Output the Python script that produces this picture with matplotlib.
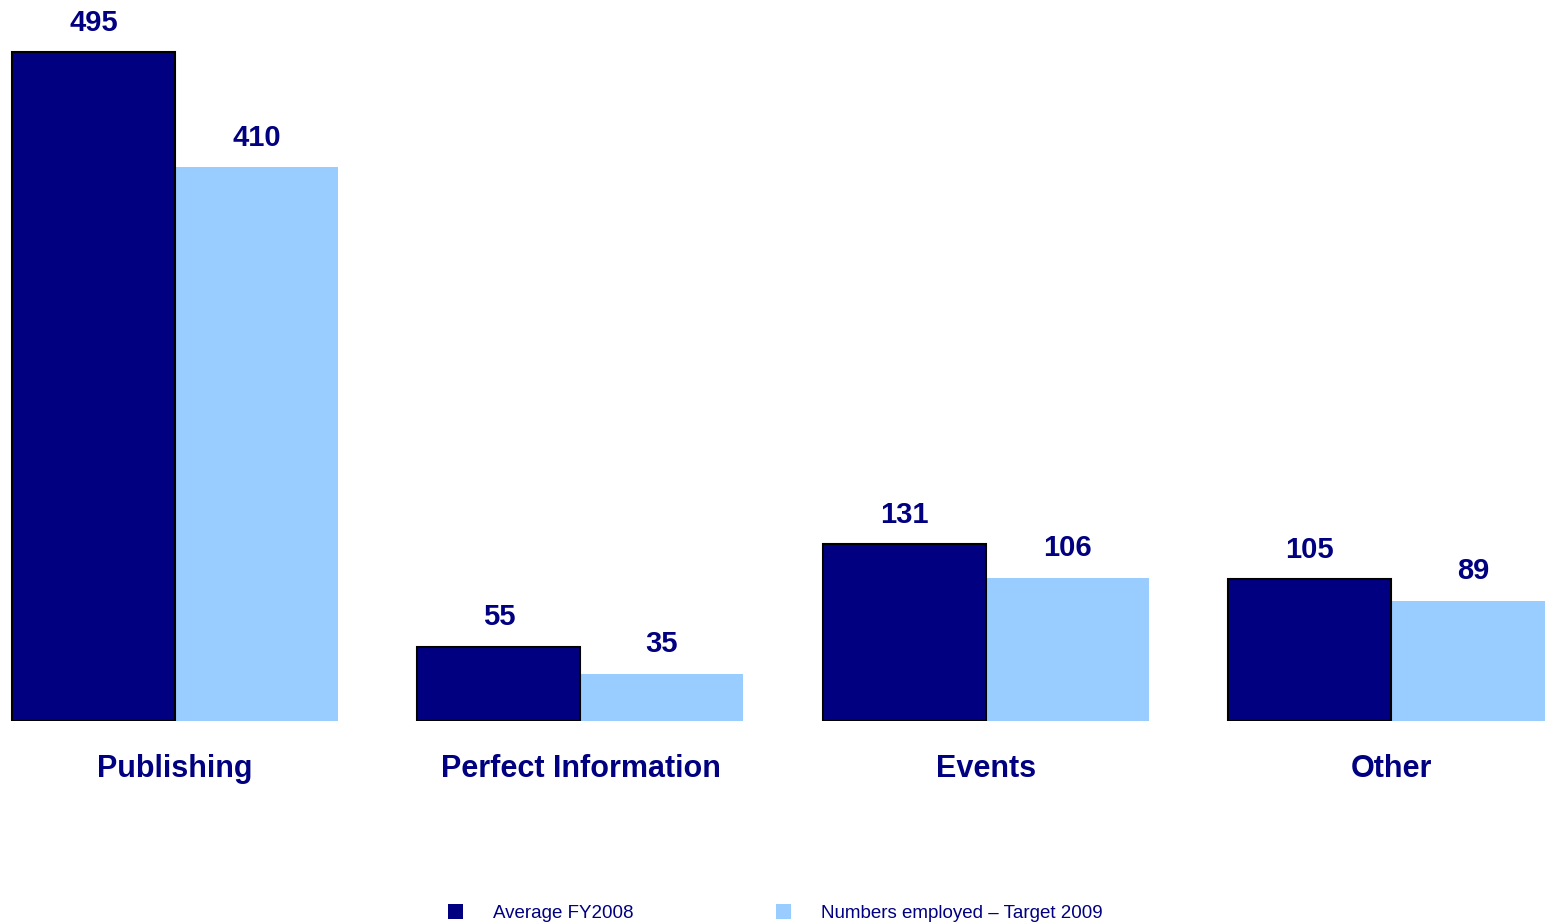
import numpy as np
import matplotlib
matplotlib.use("Agg")
import matplotlib.pyplot as plt
from matplotlib.patches import Patch

plt.rcParams['font.family'] = ['Liberation Sans', 'DejaVu Sans']

categories = ["Publishing", "Perfect Information", "Events", "Other"]
avg_fy2008 = [495, 55, 131, 105]
target_2009 = [410, 35, 106, 89]
series_names = ["Average FY2008", "Numbers employed \u2013 Target 2009"]

navy = "#000080"
light = "#99CCFF"

fig = plt.figure(figsize=(15.45, 9.23), dpi=100)
# axes spans the full width, baseline at 721 px from top
ax = fig.add_axes([0, (923 - 721) / 923, 1, 721 / 923])

x = np.arange(len(categories))
w = 0.402
b1 = ax.bar(x - w / 2, avg_fy2008, width=w, color=navy, edgecolor="black", linewidth=1.5, zorder=2)
b2 = ax.bar(x + w / 2, target_2009, width=w, color=light, edgecolor="none", zorder=1)

for bars in (b1, b2):
    ax.bar_label(bars, padding=11, fontsize=21, fontweight="bold", color=navy)

ax.set_xlim(-0.4316, 3.379)
ax.set_ylim(0, 533.5)
ax.set_xticks(x)
ax.set_xticklabels(categories, fontsize=22, fontweight="bold", color=navy)
ax.tick_params(axis="x", length=0, pad=24)
ax.set_yticks([])
for s in ax.spines.values():
    s.set_visible(False)

# legend at the bottom, partly cut by the figure edge like the original
handles = [Patch(facecolor=navy, edgecolor="none"), Patch(facecolor=light, edgecolor="none")]
leg = fig.legend(handles, series_names, loc="center", bbox_to_anchor=(0.5015, 0.0108),
                 ncol=2, frameon=False, fontsize=13.5, handlelength=0.8, handleheight=0.8,
                 handletextpad=1.6, columnspacing=7.6, borderpad=0)
for t in leg.get_texts():
    t.set_color(navy)

fig.savefig("out.png", dpi=100)
